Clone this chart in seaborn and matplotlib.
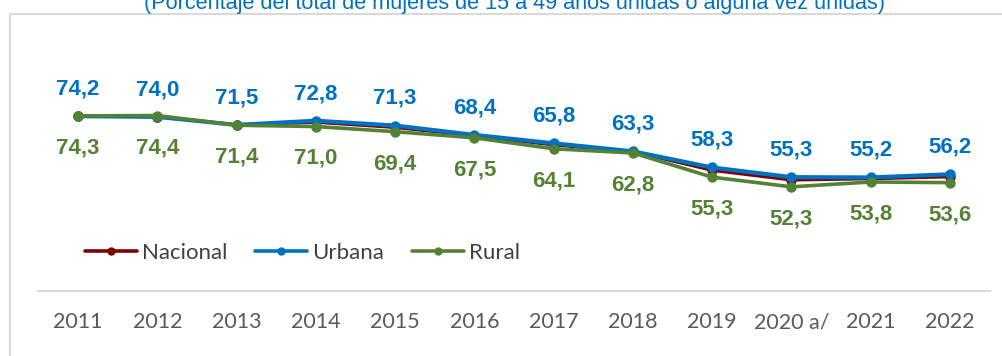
import matplotlib
matplotlib.use("Agg")
import matplotlib.pyplot as plt
from matplotlib.patches import Rectangle
from matplotlib.lines import Line2D
import seaborn as sns
import pandas as pd

# Series data
years = ["2011", "2012", "2013", "2014", "2015", "2016", "2017", "2018",
         "2019", "2020 a/", "2021", "2022"]
nacional = [74.2, 74.1, 71.5, 72.3, 70.7, 68.1, 65.3, 63.2, 57.4, 54.4, 54.8, 55.4]
urbana = [74.2, 74.0, 71.5, 72.8, 71.3, 68.4, 65.8, 63.3, 58.3, 55.3, 55.2, 56.2]
rural = [74.3, 74.4, 71.4, 71.0, 69.4, 67.5, 64.1, 62.8, 55.3, 52.3, 53.8, 53.6]
title = "(Porcentaje del total de mujeres de 15 a 49 años unidas o alguna vez unidas)"

C_NAC = "#7F0000"
C_URB = "#0070C0"
C_RUR = "#548235"
NARROW = ["Liberation Sans Narrow", "Liberation Sans", "DejaVu Sans"]

sns.set_theme(style="white")
plt.rcParams["font.family"] = ["Liberation Sans", "DejaVu Sans"]

W, H = 1003, 356
fig = plt.figure(figsize=(W / 100, H / 100), dpi=100)
ax = fig.add_axes([38.4 / W, (H - 291) / H, (989.6 - 38.4) / W, (291 - 33) / H])

idx = list(range(len(years)))
df = pd.DataFrame({"idx": idx * 3,
                   "valor": nacional + urbana + rural,
                   "zona": ["Nacional"] * len(idx) + ["Urbana"] * len(idx) + ["Rural"] * len(idx)})

styles = {"Nacional": (C_NAC, 2.2), "Urbana": (C_URB, 3.0), "Rural": (C_RUR, 2.6)}
for zona in ["Nacional", "Urbana", "Rural"]:
    color, lw = styles[zona]
    sns.lineplot(data=df[df["zona"] == zona], x="idx", y="valor", ax=ax,
                 color=color, linewidth=lw, marker="o", markersize=7.5,
                 markeredgewidth=0, sort=False, legend=False)

# Value labels: urbana above, rural below
for i in idx:
    ax.annotate(f"{urbana[i]:.1f}".replace(".", ","), (i, urbana[i]),
                xytext=(0, 19.5), textcoords="offset points", ha="center", va="center",
                color=C_URB, fontsize=16, fontweight="bold", family=NARROW)
    ax.annotate(f"{rural[i]:.1f}".replace(".", ","), (i, rural[i]),
                xytext=(0, -23), textcoords="offset points", ha="center", va="center",
                color=C_RUR, fontsize=16, fontweight="bold", family=NARROW)

ax.set_xlim(-0.5, len(years) - 0.5)
ax.set_ylim(20, 100)
ax.set_xticks(idx)
ax.set_xticklabels(years, family=["Lato", "DejaVu Sans"], fontsize=15.5, color="#595959")
for lbl in ax.get_xticklabels():
    lbl.set_verticalalignment("baseline")
ax.set_yticks([])
ax.tick_params(axis="x", length=0, pad=27)
ax.set_xlabel("")
ax.set_ylabel("")
for s in ["top", "left", "right"]:
    ax.spines[s].set_visible(False)
ax.spines["bottom"].set_color("#D9D9D9")
ax.spines["bottom"].set_linewidth(1.5)

# Legend
handles = [Line2D([], [], color=c, linewidth=lw, marker="o", markersize=6, markeredgewidth=0)
           for c, lw in [(C_NAC, 2.6), (C_URB, 2.6), (C_RUR, 2.6)]]
leg = fig.legend(handles, ["Nacional", "Urbana", "Rural"], loc="center left",
                 bbox_to_anchor=(85 / W, (H - 253) / H), bbox_transform=fig.transFigure,
                 ncol=3, frameon=False, borderpad=0, borderaxespad=0,
                 handlelength=2.35, handletextpad=0.22, columnspacing=1.25,
                 prop={"family": ["Lato", "DejaVu Sans"], "size": 16})
for t in leg.get_texts():
    t.set_color("#404040")

# Outer chart border
fig.patches.append(Rectangle((10 / W, -0.2), 1.2, (H - 14) / H + 0.2,
                             transform=fig.transFigure, fill=False,
                             edgecolor="#D9D9D9", linewidth=1.5))

fig.text(515 / W, (H - 9) / H, title, ha="center", va="baseline",
         color=C_URB, fontsize=15.6, family=NARROW)

fig.savefig("out.png", dpi=100)
